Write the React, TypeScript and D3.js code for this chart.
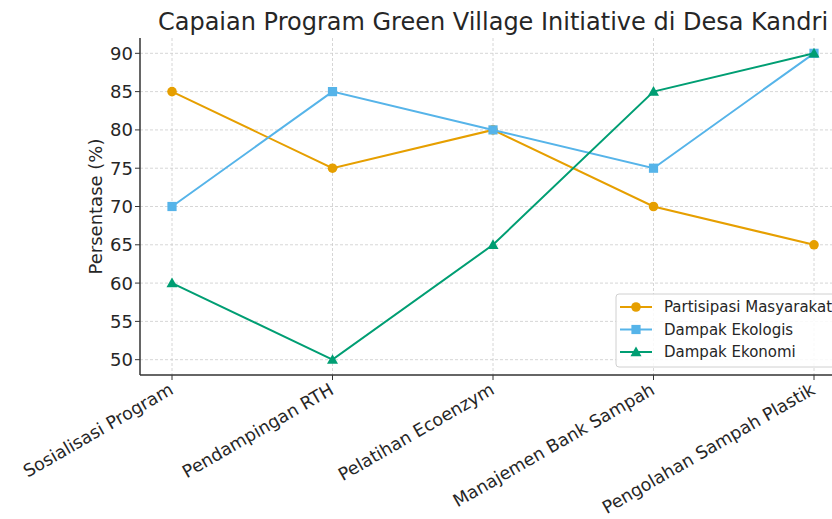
import React from "react";
import * as d3 from "d3";

const categories = [
  "Sosialisasi Program",
  "Pendampingan RTH",
  "Pelatihan Ecoenzym",
  "Manajemen Bank Sampah",
  "Pengolahan Sampah Plastik",
];
const partisipasi = [85, 75, 80, 70, 65];
const ekologis = [70, 85, 80, 75, 90];
const ekonomi = [60, 50, 65, 85, 90];
const yTicks = [50, 55, 60, 65, 70, 75, 80, 85, 90];
const seriesNames = ["Partisipasi Masyarakat", "Dampak Ekologis", "Dampak Ekonomi"];
const seriesColors = ["#E69F00", "#56B4E9", "#009E73"];
const seriesMarkers = ["circle", "square", "triangle"];

const W = 832;
const H = 519;
const left = 140;
const right = 846;
const top = 38;
const bottom = 375;
const font = "DejaVu Sans, sans-serif";
const textColor = "#262626";

function Marker({ type, x, y, color }: { type: string; x: number; y: number; color: string }) {
  if (type === "circle") return <circle cx={x} cy={y} r={4.8} fill={color} />;
  if (type === "square") return <rect x={x - 4.6} y={y - 4.6} width={9.2} height={9.2} fill={color} />;
  const s = 5.5;
  return (
    <path
      d={`M${x},${y - s} L${x + s},${y + s * 0.75} L${x - s},${y + s * 0.75} Z`}
      fill={color}
    />
  );
}

export default function App() {
  const x = d3.scalePoint<number>().domain(d3.range(categories.length)).range([172, 814]);
  const y = d3.scaleLinear().domain([48, 92]).range([bottom, top]);
  const allSeries = [partisipasi, ekologis, ekonomi];
  const line = d3
    .line<number>()
    .x((_, i) => x(i) as number)
    .y((d) => y(d));

  return (
    <svg
      width={W}
      height={H}
      style={{ position: "absolute", left: 0, top: 0, background: "#fff" }}
      fontFamily={font}
    >
      <rect width={W} height={H} fill="#fff" />
      {yTicks.map((t) => (
        <line
          key={"gy" + t}
          x1={left}
          x2={right}
          y1={y(t)}
          y2={y(t)}
          stroke="#cccccc"
          strokeWidth={0.8}
          strokeDasharray="3,2"
        />
      ))}
      {categories.map((c, i) => (
        <line
          key={"gx" + c}
          x1={x(i)}
          x2={x(i)}
          y1={top}
          y2={bottom}
          stroke="#cccccc"
          strokeWidth={0.8}
          strokeDasharray="3,2"
        />
      ))}
      {allSeries.map((s, si) => (
        <g key={"s" + si}>
          <path d={line(s) || ""} fill="none" stroke={seriesColors[si]} strokeWidth={2} />
          {s.map((v, i) => (
            <Marker key={i} type={seriesMarkers[si]} x={x(i) as number} y={y(v)} color={seriesColors[si]} />
          ))}
        </g>
      ))}
      <line x1={left} x2={left} y1={top} y2={bottom} stroke="#333" strokeWidth={1.5} />
      <line x1={left} x2={right} y1={bottom} y2={bottom} stroke="#333" strokeWidth={1.5} />
      {yTicks.map((t) => (
        <g key={"yt" + t}>
          <line x1={left - 5} x2={left} y1={y(t)} y2={y(t)} stroke="#333" strokeWidth={1} />
          <text
            x={left - 7}
            y={y(t)}
            textAnchor="end"
            dominantBaseline="central"
            fontSize={18}
            fill={textColor}
          >
            {t}
          </text>
        </g>
      ))}
      {categories.map((c, i) => (
        <g key={"xt" + c}>
          <line x1={x(i)} x2={x(i)} y1={bottom} y2={bottom + 5} stroke="#333" strokeWidth={1} />
          <text
            transform={`translate(${(x(i) as number) - 4},${bottom + 7}) rotate(-30)`}
            textAnchor="end"
            dominantBaseline="hanging"
            fontSize={17.5}
            fill={textColor}
          >
            {c}
          </text>
        </g>
      ))}
      <text
        transform={`translate(102,${(top + bottom) / 2}) rotate(-90)`}
        textAnchor="middle"
        fontSize={18}
        fill={textColor}
      >
        Persentase (%)
      </text>
      <text x={(left + right) / 2} y={30} textAnchor="middle" fontSize={24} fill={textColor}>
        Capaian Program Green Village Initiative di Desa Kandri
      </text>
      <g>
        <rect
          x={616}
          y={294}
          width={240}
          height={73}
          rx={3}
          fill="#fff"
          fillOpacity={0.85}
          stroke="#d0d0d0"
          strokeWidth={1}
        />
        {seriesNames.map((n, i) => {
          const ly = 307 + i * 22.5;
          return (
            <g key={"lg" + n}>
              <line x1={620} x2={652} y1={ly} y2={ly} stroke={seriesColors[i]} strokeWidth={2} />
              <Marker type={seriesMarkers[i]} x={636} y={ly} color={seriesColors[i]} />
              <text x={664} y={ly} dominantBaseline="central" fontSize={15} fill={textColor}>
                {n}
              </text>
            </g>
          );
        })}
      </g>
    </svg>
  );
}
